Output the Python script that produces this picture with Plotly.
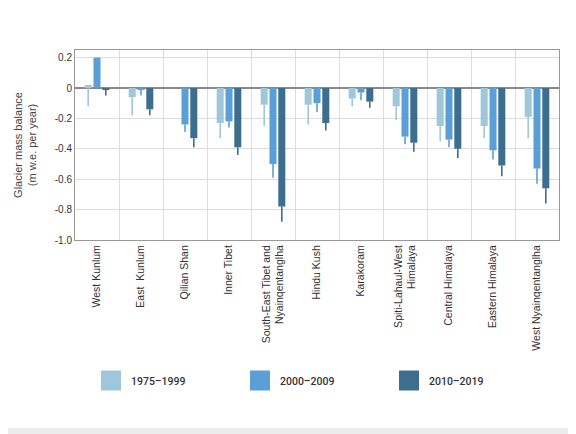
import plotly.graph_objects as go

# regions along the x axis
regions = [
    "West Kunlum", "East  Kunlum", "Qilian Shan", "Inner Tibet",
    "South-East Tibet and<br>Nyainqentanglha", "Hindu Kush", "Karakoram",
    "Spiti-Lahaul-West<br>Himalaya", "Central Himalaya", "Eastern Himalaya",
    "West Nyainqentanglha",
]

periods = ["1975\u20131999", "2000\u20132009", "2010\u20132019"]

# mass balance (m w.e. per year) per period
mb_1975_1999 = [0.02, -0.06, None, -0.23, -0.11, -0.11, -0.07, -0.12, -0.25, -0.25, -0.19]
mb_2000_2009 = [0.20, -0.01, -0.24, -0.22, -0.50, -0.10, -0.03, -0.32, -0.34, -0.41, -0.53]
mb_2010_2019 = [-0.01, -0.14, -0.33, -0.39, -0.78, -0.23, -0.09, -0.36, -0.40, -0.51, -0.66]

# lower end of the uncertainty whisker
low_1975_1999 = [-0.12, -0.18, None, -0.33, -0.25, -0.24, -0.12, -0.21, -0.35, -0.33, -0.33]
low_2000_2009 = [0.20, -0.05, -0.29, -0.26, -0.59, -0.16, -0.08, -0.37, -0.39, -0.47, -0.63]
low_2010_2019 = [-0.05, -0.18, -0.39, -0.44, -0.88, -0.28, -0.13, -0.42, -0.46, -0.58, -0.76]

ytick_vals = [0.2, 0, -0.2, -0.4, -0.6, -0.8, -1.0]
ytick_text = ["0.2", "0", "-0.2", "-0.4", "-0.6", "-0.8", "-1.0"]

colors = ["#9ec7db", "#5b9fd7", "#3d6e8d"]

series = [
    (mb_1975_1999, low_1975_1999),
    (mb_2000_2009, low_2000_2009),
    (mb_2010_2019, low_2010_2019),
]

# the page adds an 8px body margin, so the figure is 8px smaller than the window
W, H = 568, 426
ML, MR, MT, MB = 67, 17, 42, 194
PW, PH = W - ML - MR, H - MT - MB

fig = go.Figure()

for name, color, (vals, lows) in zip(periods, colors, series):
    minus = [None if v is None else round(v - lo, 3) for v, lo in zip(vals, lows)]
    fig.add_trace(go.Bar(
        x=regions, y=vals, name=name,
        marker=dict(color=color, line=dict(width=0)),
        error_y=dict(type="data", symmetric=False,
                     array=[0] * len(vals), arrayminus=minus,
                     color=color, thickness=1.6, width=0),
        showlegend=False,
    ))
    # legend entry with a bigger square swatch
    fig.add_trace(go.Scatter(
        x=[None], y=[None], mode="markers", name=name,
        marker=dict(symbol="square", size=20, color=color,
                    line=dict(width=4, color=color)),
    ))

# white card, grey strip on the right and bottom
fig.add_shape(type="rect", xref="paper", yref="paper", layer="below",
              x0=-ML / PW, x1=(563 - ML) / PW,
              y0=(PH + MT - 420) / PH, y1=(PH + MT) / PH,
              fillcolor="white", line=dict(width=0))

fig.update_layout(
    width=W, height=H,
    margin=dict(l=ML, r=MR, t=MT, b=MB),
    paper_bgcolor="#ececec",
    plot_bgcolor="white",
    barmode="group", bargap=0.4, bargroupgap=0.2,
    font=dict(family="Liberation Sans, Arial, sans-serif", color="#444"),
    xaxis=dict(
        type="category", tickson="boundaries", tickangle=-90,
        showgrid=True, gridcolor="#dddddd", gridwidth=1,
        tickfont=dict(size=10.5, color="#333"),
        showline=True, linecolor="#999", linewidth=1, mirror=True,
        ticks="", automargin=False,
    ),
    yaxis=dict(
        range=[-1.0, 0.25], tickvals=ytick_vals, ticktext=ytick_text,
        showgrid=True, gridcolor="#dddddd", gridwidth=1,
        zeroline=True, zerolinecolor="#888", zerolinewidth=1.5,
        showline=True, linecolor="#999", linewidth=1, mirror=True,
        tickfont=dict(size=10, color="#333"), automargin=False,
        title=dict(text="Glacier mass balance<br>(m w.e. per year)",
                   font=dict(size=11, color="#444")),
    ),
    legend=dict(
        orientation="h", x=16 / PW, xanchor="left",
        y=(PH + MT - 358) / PH, yanchor="top",
        entrywidth=104, entrywidthmode="pixels",
        font=dict(family="Roboto, sans-serif", size=10.5, color="#333", weight=500),
        bgcolor="rgba(0,0,0,0)",
    ),
)

fig.write_html("out.html")
